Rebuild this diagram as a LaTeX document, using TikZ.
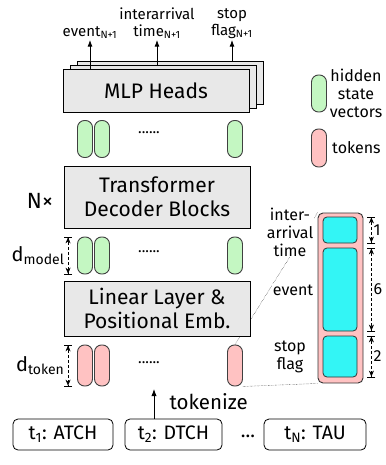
\documentclass[tikz,border=0pt]{standalone}
\usepackage{fontspec}
\setmainfont{Fira Sans}
\usetikzlibrary{arrows.meta}

\definecolor{boxgray}{HTML}{E8E8E8}
\definecolor{hidgreen}{HTML}{C4F7C2}
\definecolor{tokpink}{HTML}{FFC2C2}
\definecolor{fieldcyan}{HTML}{33F5F5}

\begin{document}
\begin{tikzpicture}[x=1pt, y=-1pt,
    block/.style={draw, fill=boxgray, line width=.8pt, minimum width=186pt, align=center, font=\fontsize{21}{24}\selectfont},
    hidden/.style={draw=black!75, fill=hidgreen, line width=.9pt, rounded corners=7pt, minimum width=15pt, minimum height=37pt, inner sep=0pt},
    token/.style={hidden, fill=tokpink, minimum height=41pt},
    field/.style={draw=black!80, fill=fieldcyan, line width=.8pt, rounded corners=4pt, minimum width=34pt, inner sep=0pt},
    dim/.style={{Bar[width=8pt,line width=.8pt]Stealth[length=6pt,width=5pt,sep=0pt]}-{Stealth[length=6pt,width=5pt,sep=0pt]Bar[width=8pt,line width=.8pt]}, dash pattern=on 3pt off 2pt, line width=.6pt},
    lbl/.style={align=center, font=\fontsize{16}{18}\selectfont, inner sep=1pt},
    evbox/.style={draw, rounded corners=5pt, line width=.8pt, minimum height=31pt, inner sep=0pt, font=\fontsize{19.5}{22}\selectfont}
]
    \useasboundingbox (0,0) rectangle (385,465);
    % Tokens
    \foreach \x/\i in {85/1,102/2,235/3} {
        \node[token] (Token-\i) at (\x,365.5) {};
    }
    \node[font=\fontsize{15}{17}\selectfont] (Dots-3) at (149,363) {......};
    % Token fields (zoom)
    \node[draw=black!80, fill=tokpink, line width=.9pt, rounded corners=5pt, minimum width=45pt, minimum height=170pt] (Detail) at (340.5,298) {};
    \foreach \i/\ya/\yb in {1/217/243,2/248/331,3/336/377} {
        \node[field, minimum height=\yb-\ya] (Field-\i) at (340,{(\ya+\yb)/2}) {};
    }
    \draw[densely dotted] (Token-3.north) -- (Detail.north west);
    \draw[densely dotted] (Token-3.south east) -- (Detail.south west);
    \foreach \i/\n in {1/1,2/6,3/2} {
        \draw[dim] ([xshift=14pt]Field-\i.north east) -- ([xshift=14pt]Field-\i.south east)
            node[midway, right=1pt, lbl] {\n};
    }
    \node[lbl, fill=white] (Lbl-1) at (290,232) {inter-\\arrival\\time};
    \node[lbl, fill=white] (Lbl-2) at (293,290) {event};
    \node[lbl, fill=white] (Lbl-3) at (290,357) {stop\\flag};
    % Linear Layer
    \node[block, minimum height=55pt] (Linear) at (157,308.5) {Linear Layer \&\\Positional Emb.};
    % Hidden states
    \foreach \x/\i in {85/1,102/2,235/3} {
        \node[hidden] (Hidden1-\i) at (\x,139) {};
        \node[hidden] (Hidden2-\i) at (\x,255.5) {};
    }
    \node[font=\fontsize{15}{17}\selectfont] (Dots-1) at (149,133) {......};
    \node[font=\fontsize{15}{17}\selectfont] (Dots-2) at (149,252) {......};
    % Transformer
    \node[block, minimum height=62pt] (Decoder) at (157,197) {Transformer\\Decoder Blocks};
    \node[font=\fontsize{22}{24}\selectfont] (Repeat) at (40,201) {N×};
    % Dimensions
    \draw[dim] ([xshift=-9pt]Hidden2-1.north west) -- ([xshift=-9pt]Hidden2-1.south west)
        node[midway, left=0pt, font=\fontsize{20}{22}\selectfont] {d\textsubscript{model}};
    \draw[dim] ([xshift=-9pt]Token-1.north west) -- ([xshift=-9pt]Token-1.south west)
        node[midway, left=0pt, font=\fontsize{20}{22}\selectfont] {d\textsubscript{token}};
    % MLP Heads
    \foreach \i/\dx/\dy in {3/14/-8,2/7/-4,1/0/0} {
        \node[block, minimum height=43pt] (MLP-\i) at ({156+\dx},{90.5+\dy}) {};
    }
    \node[font=\fontsize{21}{24}\selectfont] at (MLP-1) {MLP Heads};
    % Outputs
    \foreach \name/\x/\i in {event\textsubscript{N+1}/90/1,{interarrival\\time\textsubscript{N+1}}/157/2,{stop\\flag\textsubscript{N+1}}/232/3} {
        \node[lbl, font=\fontsize{15}{17}\selectfont, anchor=south] (Head-\i) at (\x,40) {\name};
        \draw[-Latex, line width=.8pt] (MLP-\i.north -| Head-\i) -- (Head-\i);
    }
    % Legend
    \node[hidden] (Key-1) at (319,93.5) {};
    \node[lbl] at (356,93) {hidden\\state\\vectors};
    \node[token, minimum height=38pt] (Key-2) at (319,148) {};
    \node[lbl, anchor=west] at (331,148) {tokens};
    % Events
    \foreach \txt/\x/\w/\i in {{t\textsubscript{1}: ATCH}/63/100/1,{t\textsubscript{2}: DTCH}/173.5/97/2,{t\textsubscript{N}: TAU}/315/102/3} {
        \node[evbox, minimum width=\w] (Ev-\i) at (\x,434.5) {\txt};
    }
    \node[font=\fontsize{19.5}{22}\selectfont] (Ev-dots) at (248,436) {...};
    \coordinate (Tok) at (154,389);
    \draw[-Latex, line width=.9pt] (Ev-2.north -| Tok) -- (Tok);
    \node[font=\fontsize{20.5}{22}\selectfont, anchor=west] (Tokenize) at (166,402) {tokenize};
\end{tikzpicture}
\end{document}
